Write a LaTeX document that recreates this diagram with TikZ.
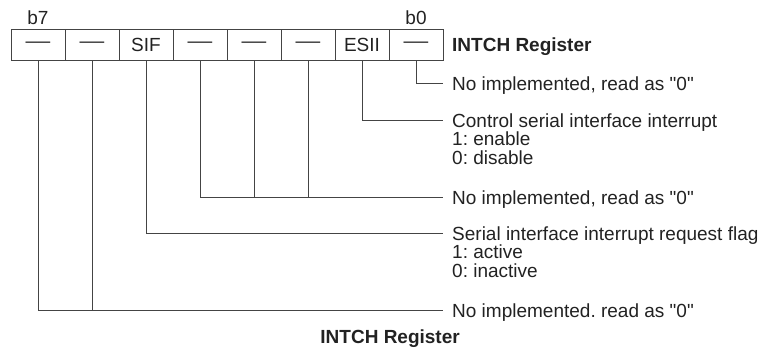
\documentclass[tikz,border=0pt]{standalone}
\usepackage{fontspec}
\usepackage{graphicx}
\setmainfont{Liberation Sans}
\frenchspacing
\definecolor{linegray}{HTML}{444444}
\definecolor{textgray}{HTML}{222222}
\newcommand{\celldash}{\scalebox{1.3}[1]{—}}
\newcommand{\qz}{\textquotedbl0\textquotedbl}
\tikzset{
  bitcell/.style={draw=linegray, line width=1pt, minimum width=54pt, minimum height=31pt, inner sep=0pt, text=textgray},
  wire/.style={draw=linegray, line width=1pt},
  desc/.style={anchor=north west, align=left, inner sep=0pt, text=textgray},
  bitno/.style={anchor=base, inner sep=0pt, text=textgray},
}
\begin{document}
\begin{tikzpicture}[x=1pt,y=-1pt,font=\fontsize{19}{18.5}\selectfont]
		\useasboundingbox (0,0) rectangle (761,351);

		% register cells, b7 on the left
		\foreach \bit/\txt [count=\i from 0] in {7/\celldash,6/\celldash,5/SIF,4/\celldash,3/\celldash,2/\celldash,1/ESII,0/\celldash} {
				\node[bitcell] (cell\bit) at (38+54*\i,44.5) {\txt};
			}
		\node[bitno] (bitb7) at (38,24) {b7};
		\node[bitno] (bitb0) at (416,24) {b0};
		\node[anchor=base west, inner sep=0pt, text=textgray, font=\fontsize{19}{18.5}\selectfont\bfseries] (regname) at (452,51) {INTCH Register};

		% line ends
		\coordinate (end0) at (443,83);
		\coordinate (end1) at (443,120);
		\coordinate (end2) at (443,197);
		\coordinate (end5) at (443,233);
		\coordinate (end7) at (443,310);

		\draw[wire] (cell0.south) |- (end0);
		\draw[wire] (cell1.south) |- (end1);
		\draw[wire] (cell4.south) |- (end2);
		\draw[wire] (cell3.south) -- (cell3.south |- end2);
		\draw[wire] (cell2.south) -- (cell2.south |- end2);
		\draw[wire] (cell5.south) |- (end5);
		\draw[wire] (cell7.south) |- (end7);
		\draw[wire] (cell6.south) -- (cell6.south |- end7);

		\node[desc] (note0) at ([xshift=9pt,yshift=6.5pt]end0) {No implemented, read as \qz};
		\node[desc] (note1) at ([xshift=9pt,yshift=6.5pt]end1) {Control serial interface interrupt\\1: enable\\0: disable};
		\node[desc] (note2) at ([xshift=9pt,yshift=6.5pt]end2) {No implemented, read as \qz};
		\node[desc] (note5) at ([xshift=9pt,yshift=6.5pt]end5) {Serial interface interrupt request flag\\1: active\\0: inactive};
		\node[desc] (note7) at ([xshift=9pt,yshift=6.5pt]end7) {No implemented. read as \qz};

		\node[anchor=base east, inner sep=0pt, text=textgray, font=\fontsize{19}{18.5}\selectfont\bfseries] (caption) at (460,343.5) {INTCH Register};
	\end{tikzpicture}
\end{document}
